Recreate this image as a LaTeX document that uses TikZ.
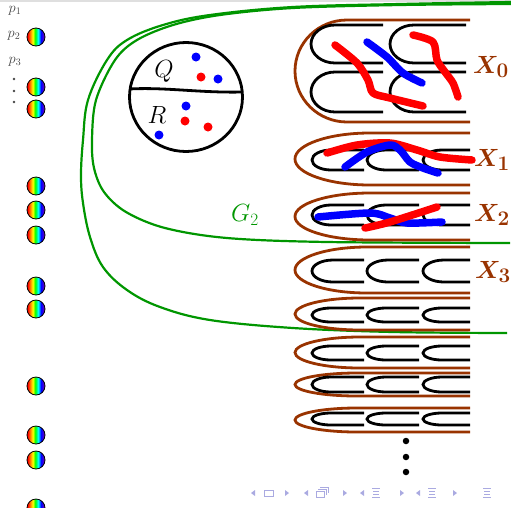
\documentclass[tikz,border=0pt]{standalone}
\usetikzlibrary{calc}

\definecolor{brownX}{RGB}{153,51,0}
\definecolor{greenG}{RGB}{0,150,0}
\definecolor{navc}{RGB}{170,170,225}
\definecolor{violetc}{RGB}{95,0,200}
\definecolor{labgray}{RGB}{70,70,70}

\pgfdeclarehorizontalshading{rainbowball}{100bp}{color(0bp)=(red); color(27bp)=(red); color(34bp)=(orange); color(41bp)=(yellow); color(48bp)=(green); color(56bp)=(cyan); color(64bp)=(blue); color(72bp)=(violetc); color(100bp)=(violetc)}

% open "C" stroke: left, right, centre y, half height, end radius
\newcommand{\cshape}[5]{\draw[cstroke] (#2,#3-#4) -- (#1+#5,#3-#4) arc[start angle=270,end angle=90,x radius=#5,y radius=#4] -- (#2,#3+#4);}
% open oval: top, half height, end radius
\newcommand{\ovalring}[3]{\draw[ovalstroke] (480,#1) -- (295+#3,#1) arc[start angle=270,end angle=90,x radius=#3,y radius=#2] -- (480,#1+2*#2);}
% three C strokes in a row
\newcommand{\crow}[3]{\cshape{312}{364}{#1}{#2}{#3}\cshape{367}{419}{#1}{#2}{#3}\cshape{423}{475}{#1}{#2}{#3}}

\tikzset{
  cstroke/.style={black, line width=2.8},
  ovalstroke/.style={brownX, line width=2.8},
  gcurve/.style={greenG, line width=2.2},
  redstrand/.style={red, line width=7.5, line cap=round, line join=round},
  bluestrand/.style={blue, line width=7.5, line cap=round, line join=round},
  ball/.style={circle, draw=black, line width=0.8, minimum size=18, inner sep=0, shading=rainbowball},
  dotr/.style={circle, fill=red, minimum size=9, inner sep=0},
  dotb/.style={circle, fill=blue, minimum size=9, inner sep=0},
  xlabel/.style={text=brownX, font=\fontsize{28}{32}\selectfont\boldmath},
  plabel/.style={text=labgray, font=\fontsize{14}{16}\selectfont},
}

\begin{document}
\begin{tikzpicture}[x=1pt, y=-1pt]
\useasboundingbox (0,0) rectangle (511,507);
\fill[gray!25] (0,0) rectangle (511,2);

% green boundaries
\draw[gcurve] plot[smooth, tension=0.6] coordinates {(511,2) (400,4) (293,7) (210,15) (163,25) (127,40) (107,60) (88,100) (83,140) (81,175) (83,203) (90,237) (103,267) (127,290) (160,307) (210,320) (293,328) (393,332) (507,333)};
\draw[gcurve] plot[smooth, tension=0.55] coordinates {(511,4) (400,5) (293,8) (220,15) (173,25) (137,40) (115,60) (96,100) (92,140) (94,168) (104,192) (126,212) (165,228) (227,238) (327,242) (510,243)};
\node[text=greenG, font=\fontsize{25}{30}\selectfont] (g2) at (245,215) {$G_2$};

% Q / R disc
\draw[black, line width=2.8] (186,97) ellipse [x radius=56.5, y radius=54.5];
\draw[black, line width=2.8] (129.5,89) .. controls (165,87) and (200,93) .. (242.5,92);
\node[font=\fontsize{25}{30}\selectfont] (q) at (164,71) {$Q$};
\node[font=\fontsize{25}{30}\selectfont] (r) at (157,115) {$R$};
\node[dotb] (q1) at (196,57) {};
\node[dotr] (q2) at (201,77) {};
\node[dotb] (q3) at (218,79) {};
\node[dotb] (r1) at (186,106) {};
\node[dotr] (r2) at (185,121) {};
\node[dotr] (r3) at (208,127) {};
\node[dotb] (r4) at (159,135) {};

% ovals and C strokes
\begin{scope}
\clip (0,0) rectangle (470,507);
\ovalring{20}{51}{52}
\cshape{311}{383}{44}{19}{24}
\cshape{390}{466}{44}{19}{24}
\cshape{311}{383}{92}{20}{24}
\cshape{390}{466}{92}{20}{24}
\ovalring{133}{26}{75}
\crow{160}{10}{19}
\ovalring{193}{23.5}{75}
\crow{215}{10}{19}
\ovalring{247}{23}{72}
\crow{271}{11}{21}
\ovalring{298}{16}{65}
\crow{315}{7}{19}
\ovalring{337}{15.5}{65}
\crow{353}{7}{19}
\ovalring{373}{11.5}{62}
\crow{384.5}{7.5}{19}
\ovalring{408}{12}{62}
\crow{419}{6}{19}
\end{scope}

% strands
\draw[redstrand] plot[smooth] coordinates {(335,45) (357,63) (368,80) (373,93) (390,98) (423,106)};
\draw[bluestrand] plot[smooth] coordinates {(367,42) (387,57) (403,73) (422,83)};
\draw[redstrand] plot[smooth] coordinates {(413,35) (433,42) (437,60) (445,72) (453,83) (458,97)};
\draw[redstrand] plot[smooth] coordinates {(327,153) (357,145) (390,143) (417,150) (440,157) (472,160)};
\draw[bluestrand] plot[smooth] coordinates {(345,167) (367,152) (390,145) (400,150) (410,162) (423,168) (438,173)};
\draw[bluestrand] plot[smooth] coordinates {(318,217) (370,213) (390,218) (407,223) (442,222)};
\draw[redstrand] plot[smooth] coordinates {(365,228) (390,222) (437,207)};

% labels of the sets
\node[xlabel] (x0) at (491,67) {$X_0$};
\node[xlabel] (x1) at (492,160) {$X_1$};
\node[xlabel] (x2) at (492,215) {$X_2$};
\node[xlabel] (x3) at (493,272) {$X_3$};

% continuation dots
\foreach \yy [count=\i] in {441,457,472}
  \node[circle, fill=black, minimum size=6.5, inner sep=0] (cd\i) at (406,\yy) {};

% points column
\node[plabel] (p1) at (15,11) {$p_1$};
\node[plabel] (p2) at (14,36) {$p_2$};
\node[plabel] (p3) at (15,62) {$p_3$};
\foreach \yy [count=\i] in {79,91,102}
  \node[circle, fill=labgray, minimum size=2.6, inner sep=0] (pd\i) at (14,\yy) {};
\foreach \yy [count=\i] in {37,87,109,186,210,235,286,309,386,435,460,508}
  \node[ball] (b\i) at (36,\yy) {};

% navigation symbols
\begin{scope}[navc, line width=0.8]
\foreach \xx in {253,306,362,418}
  \fill (\xx-2,493) -- (\xx+2,490) -- (\xx+2,496) -- cycle;
\foreach \xx in {287,345,402,455}
  \fill (\xx+2,493) -- (\xx-2,490) -- (\xx-2,496) -- cycle;
\draw (264,490) rectangle (273,496);
\draw (316,491) rectangle (324,497);
\draw (318,489) -- (326,489) -- (326,495);
\draw (320,487) -- (328,487) -- (328,493);
\foreach \xx in {376,432,487} {
  \draw (\xx-4,488) -- (\xx+4,488);
  \draw (\xx-3,491) -- (\xx+3,491);
  \draw (\xx-3,494) -- (\xx+3,494);
  \draw (\xx-4,497) -- (\xx+4,497);
}
\end{scope}
\end{tikzpicture}
\end{document}
